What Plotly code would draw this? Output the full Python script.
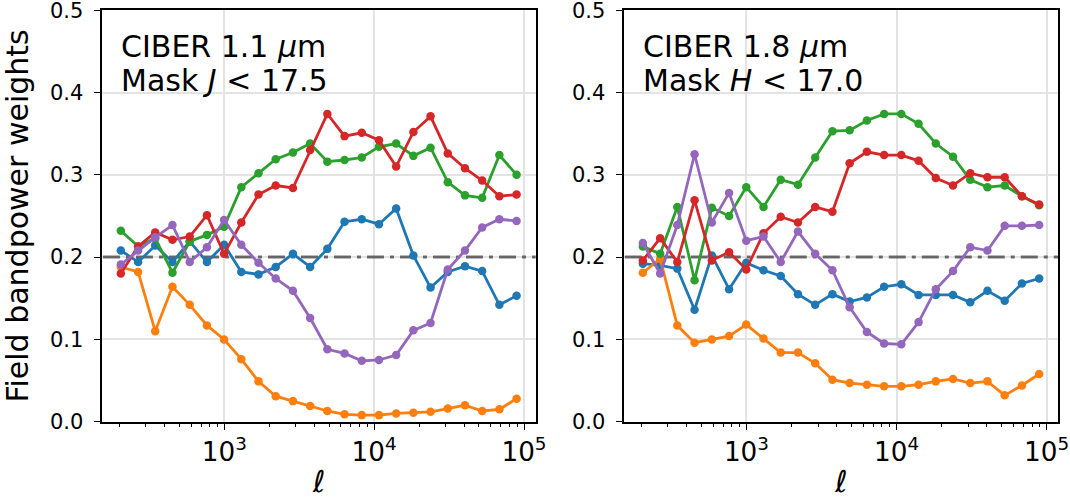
import plotly.graph_objects as go

# Multipole bin centres (shared by both bands)
ell = [204, 266, 346, 451, 588, 766, 997, 1299, 1692, 2204, 2871, 3740,
       4872, 6346, 8267, 10765, 14025, 18268, 23790, 30990, 40365, 52580,
       68485, 89210]

# Per-field bandpower weights, CIBER 1.1 um (mask J < 17.5)
tm1_f1 = [0.208, 0.194, 0.214, 0.194, 0.219, 0.194, 0.215, 0.182, 0.179, 0.188, 0.204, 0.188,
          0.210, 0.243, 0.246, 0.240, 0.259, 0.202, 0.163, 0.182, 0.189, 0.183, 0.142, 0.153]
tm1_f2 = [0.188, 0.182, 0.110, 0.164, 0.142, 0.117, 0.100, 0.076, 0.049, 0.031, 0.025, 0.019,
          0.013, 0.009, 0.008, 0.008, 0.010, 0.011, 0.012, 0.016, 0.020, 0.013, 0.015, 0.028]
tm1_f3 = [0.232, 0.213, 0.223, 0.181, 0.219, 0.227, 0.237, 0.285, 0.302, 0.319, 0.327, 0.338,
          0.316, 0.318, 0.321, 0.334, 0.338, 0.323, 0.333, 0.291, 0.275, 0.272, 0.324, 0.300]
tm1_f4 = [0.180, 0.213, 0.230, 0.221, 0.225, 0.251, 0.204, 0.242, 0.276, 0.287, 0.284, 0.330,
          0.374, 0.347, 0.351, 0.342, 0.310, 0.352, 0.371, 0.326, 0.308, 0.293, 0.274, 0.276]
tm1_f5 = [0.191, 0.208, 0.224, 0.239, 0.194, 0.212, 0.245, 0.215, 0.193, 0.174, 0.159, 0.126,
          0.088, 0.083, 0.074, 0.075, 0.081, 0.111, 0.120, 0.185, 0.208, 0.236, 0.246, 0.244]

# Per-field bandpower weights, CIBER 1.8 um (mask H < 17.0)
tm2_f1 = [0.192, 0.190, 0.186, 0.136, 0.202, 0.161, 0.193, 0.184, 0.177, 0.155, 0.142, 0.155,
          0.146, 0.151, 0.164, 0.167, 0.154, 0.154, 0.154, 0.145, 0.159, 0.147, 0.168, 0.174]
tm2_f2 = [0.181, 0.198, 0.117, 0.096, 0.100, 0.104, 0.118, 0.101, 0.084, 0.084, 0.071, 0.051,
          0.047, 0.045, 0.043, 0.043, 0.045, 0.049, 0.052, 0.047, 0.049, 0.032, 0.044, 0.058]
tm2_f3 = [0.213, 0.204, 0.261, 0.172, 0.260, 0.250, 0.285, 0.261, 0.294, 0.288, 0.321, 0.353,
          0.354, 0.366, 0.374, 0.374, 0.362, 0.338, 0.322, 0.294, 0.285, 0.287, 0.274, 0.263]
tm2_f4 = [0.196, 0.223, 0.194, 0.269, 0.196, 0.206, 0.185, 0.229, 0.249, 0.242, 0.261, 0.255,
          0.314, 0.328, 0.324, 0.324, 0.317, 0.296, 0.287, 0.302, 0.297, 0.297, 0.274, 0.264]
tm2_f5 = [0.217, 0.180, 0.239, 0.325, 0.242, 0.278, 0.220, 0.225, 0.194, 0.231, 0.204, 0.184,
          0.139, 0.109, 0.095, 0.094, 0.121, 0.161, 0.183, 0.212, 0.208, 0.238, 0.238, 0.239]

y_ticks = [0.0, 0.1, 0.2, 0.3, 0.4, 0.5]
y_ticklabels = ["0.0", "0.1", "0.2", "0.3", "0.4", "0.5"]

panels = [
    ([tm1_f1, tm1_f2, tm1_f3, tm1_f4, tm1_f5], ["CIBER 1.1 <i>μ</i>m", "Mask <i>J</i> &lt; 17.5"]),
    ([tm2_f1, tm2_f2, tm2_f3, tm2_f4, tm2_f5], ["CIBER 1.8 <i>μ</i>m", "Mask <i>H</i> &lt; 17.0"]),
]
colors = ["#1f77b4", "#ff7f0e", "#2ca02c", "#d62728", "#9467bd"]
uniform_weight = 0.2

W, H = 1070, 499
FONT = "DejaVu Sans"
x_domains = [[102.3 / W, 535.7 / W], [624.3 / W, 1058.3 / W]]
y_domain = [1 - 421.7 / H, 1 - 10.2 / H]

fig = go.Figure()

for i, (series, label) in enumerate(panels):
    xa = "x" if i == 0 else "x2"
    ya = "y" if i == 0 else "y2"
    # reference level for uniform weighting across the five fields; extends past
    # the bins on both sides and is clipped to the axes
    fig.add_trace(go.Scatter(
        x=[ell[0] / 10, ell[-1] * 10], y=[uniform_weight, uniform_weight],
        mode="lines", xaxis=xa, yaxis=ya, hoverinfo="skip", showlegend=False,
        line=dict(color="rgba(0,0,0,0.55)", width=3, dash="17px,6px,4px,6px"),
    ))
    for vals, c in zip(series, colors):
        fig.add_trace(go.Scatter(
            x=ell, y=vals, mode="lines+markers", xaxis=xa, yaxis=ya,
            line=dict(color=c, width=2.8),
            marker=dict(color=c, size=8.5),
            showlegend=False,
        ))
    for j, line in enumerate(label):
        fig.add_annotation(
            text=line, xref=f"{xa} domain", yref=f"{ya} domain",
            x=0.038, y=[0.912, 0.828][j], xanchor="left", yanchor="middle",
            showarrow=False, font=dict(family=FONT, size=30, color="black"),
        )

axis_common = dict(
    showline=True, linecolor="black", linewidth=1.5, mirror=True,
    ticks="outside", ticklen=7, tickwidth=1.3, tickcolor="black",
    showgrid=True, gridcolor="#e3e3e3", gridwidth=1.5, zeroline=False,
    automargin=False, ticklabeloverflow="allow",
)

for i in range(2):
    sx = "" if i == 0 else "2"
    fig.update_layout(**{
        f"xaxis{sx}": dict(
            axis_common, type="log", domain=x_domains[i], anchor=f"y{sx}",
            range=[2.186, 5.078], dtick=1, exponentformat="power", showexponent="all",
            tickfont=dict(family=FONT, size=21, color="black"),
            minor=dict(ticks="outside", ticklen=4, tickwidth=1, tickcolor="black",
                       dtick="D1", showgrid=False),
            title=dict(text="<i>ℓ</i>", font=dict(family=FONT, size=30, color="black"),
                       standoff=12),
        ),
        f"yaxis{sx}": dict(
            axis_common, domain=y_domain, anchor=f"x{sx}",
            range=[0, 0.5], tickmode="array", tickvals=y_ticks, ticktext=y_ticklabels,
            tickfont=dict(family=FONT, size=21, color="black"), ticklabelstandoff=6,
            title=dict(text="Field bandpower weights" if i == 0 else "",
                       font=dict(family=FONT, size=30, color="black"), standoff=12),
        ),
    })

fig.update_layout(
    width=W, height=H, margin=dict(l=0, r=0, t=0, b=0),
    plot_bgcolor="white", paper_bgcolor="white",
    font=dict(family=FONT, color="black"),
)

fig.write_html("out.html")
